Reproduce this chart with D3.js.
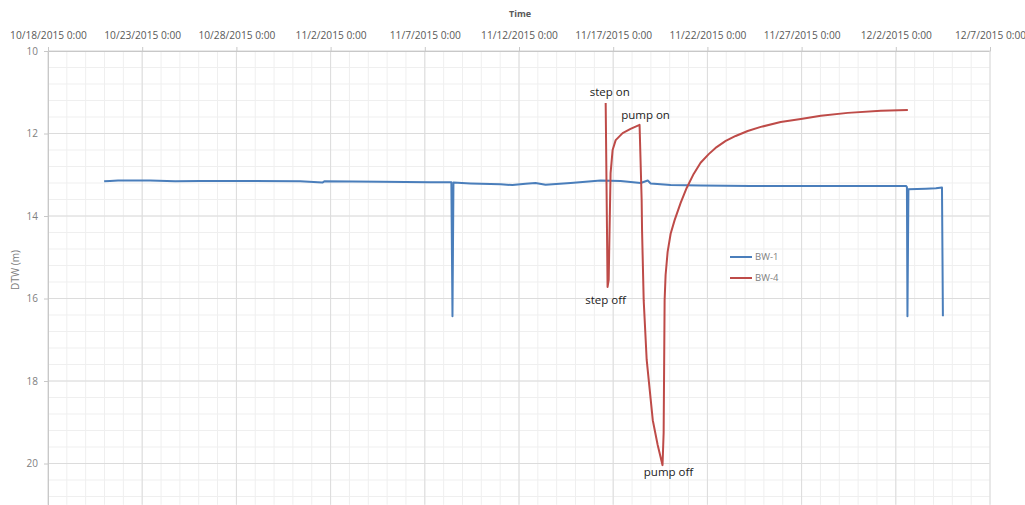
<!DOCTYPE html>
<html>
<head>
<meta charset="utf-8">
<script src="https://cdn.jsdelivr.net/npm/d3@7"></script>
<style>
  html, body { margin: 0; padding: 0; background: #fff; }
  svg { display: block; font-family: "Open Sans", "DejaVu Sans", sans-serif; }
</style>
</head>
<body>
<div id="chart"></div>
<script>
'use strict';

// ─── Data ─────────────────────────────────────────────────────────────────────
const xTickLabels = ['10/18/2015 0:00', '10/23/2015 0:00', '10/28/2015 0:00', '11/2/2015 0:00',
  '11/7/2015 0:00', '11/12/2015 0:00', '11/17/2015 0:00', '11/22/2015 0:00',
  '11/27/2015 0:00', '12/2/2015 0:00', '12/7/2015 0:00'];
const yTicks = [10, 12, 14, 16, 18, 20];

const bw1Times = ['10/20/2015 23:30', '10/21/2015 7:00', '10/21/2015 17:15', '10/23/2015 10:00',
  '10/24/2015 18:00', '10/26/2015 2:00', '10/28/2015 5:00', '10/31/2015 9:20', '11/1/2015 13:30',
  '11/1/2015 16:00', '11/4/2015 15:20', '11/7/2015 7:10', '11/8/2015 9:50', '11/8/2015 11:15',
  '11/8/2015 12:30', '11/9/2015 10:00', '11/11/2015 0:30', '11/11/2015 15:40', '11/12/2015 8:25',
  '11/12/2015 21:00', '11/13/2015 9:50', '11/14/2015 17:45', '11/16/2015 8:00', '11/17/2015 9:20',
  '11/18/2015 11:00', '11/18/2015 20:00', '11/18/2015 23:45', '11/20/2015 1:10', '11/21/2015 15:20',
  '11/24/2015 7:10', '11/26/2015 23:00', '11/29/2015 14:40', '12/2/2015 13:00', '12/2/2015 14:10',
  '12/2/2015 14:50', '12/2/2015 16:05', '12/3/2015 14:25', '12/4/2015 3:10', '12/4/2015 10:50',
  '12/4/2015 12:00'];
const bw1Values = [13.16, 13.15, 13.14, 13.14,
  13.16, 13.15, 13.15, 13.16, 13.19,
  13.16, 13.17, 13.18, 13.18, 16.43,
  13.19, 13.21, 13.23, 13.25, 13.22,
  13.20, 13.24, 13.20, 13.14, 13.15,
  13.20, 13.14, 13.21, 13.25, 13.26,
  13.27, 13.27, 13.27, 13.27, 13.30,
  16.43, 13.35, 13.34, 13.33, 13.31,
  16.43];

const bw4Times = ['11/16/2015 14:25', '11/16/2015 16:50', '11/16/2015 18:15', '11/16/2015 20:40',
  '11/16/2015 23:15', '11/17/2015 3:10', '11/17/2015 12:00', '11/17/2015 22:05', '11/18/2015 9:35',
  '11/18/2015 12:15', '11/18/2015 12:45', '11/18/2015 14:50', '11/18/2015 18:40', '11/19/2015 2:25',
  '11/19/2015 8:40', '11/19/2015 14:50', '11/19/2015 16:15', '11/19/2015 17:30', '11/19/2015 18:45',
  '11/19/2015 21:20', '11/20/2015 1:10', '11/20/2015 6:15', '11/20/2015 13:55', '11/20/2015 21:35',
  '11/21/2015 6:30', '11/21/2015 15:20', '11/22/2015 1:40', '11/22/2015 11:45', '11/22/2015 23:20',
  '11/23/2015 12:00', '11/24/2015 3:20', '11/24/2015 20:00', '11/25/2015 21:20', '11/26/2015 23:00',
  '11/28/2015 0:30', '11/29/2015 10:50', '12/1/2015 5:00', '12/2/2015 15:20'];
const bw4Values = [11.26, 15.72, 15.55, 12.96,
  12.40, 12.16, 11.99, 11.89, 11.79,
  13.61, 14.34, 16.04, 17.49, 18.95,
  19.55, 20.04, 19.26, 16.04, 15.43,
  14.87, 14.43, 14.10, 13.68, 13.32,
  12.98, 12.71, 12.50, 12.33, 12.18,
  12.06, 11.94, 11.84, 11.72, 11.65,
  11.57, 11.50, 11.45, 11.43];

const annotLabels = ['step on', 'pump on', 'step off', 'pump off'];
const annotTimes  = ['11/16/2015 14:25', '11/18/2015 9:35', '11/16/2015 16:50', '11/19/2015 14:50'];
const annotValues = [11.26, 11.79, 15.72, 20.04];

const seriesNames  = ['BW-1', 'BW-4'];
const seriesColors = ['#4a7ebb', '#be4b48'];

// ─── Layout ───────────────────────────────────────────────────────────────────
const W = 1025, H = 505;
const M = { left: 48, right: 35, top: 51 };
const plotW = W - M.left - M.right;
const Y_MAX = 21;

const parse = d3.timeParse('%m/%d/%Y %H:%M');
const xScale = d3.scaleTime()
  .domain([parse('10/18/2015 0:00'), parse('12/7/2015 0:00')])
  .range([M.left, M.left + plotW]);
const yScale = d3.scaleLinear()
  .domain([10, Y_MAX])
  .range([M.top, M.top + 41.25 * (Y_MAX - 10)]);

const svg = d3.select('#chart').append('svg')
  .attr('width', W).attr('height', H);

// ─── Gridlines ────────────────────────────────────────────────────────────────
const grid = svg.append('g');
const x0 = xScale.range()[0], x1 = xScale.range()[1];
const y0 = yScale.range()[0], y1 = yScale.range()[1];

// minor: 1 day / 0.4 m
grid.selectAll('.vminor').data(d3.timeDay.range(xScale.domain()[0], xScale.domain()[1]))
  .join('line')
  .attr('x1', d => xScale(d)).attr('x2', d => xScale(d))
  .attr('y1', y0).attr('y2', y1)
  .attr('stroke', '#efefef').attr('stroke-width', 1);
grid.selectAll('.hminor').data(d3.range(10, Y_MAX + 0.001, 0.4))
  .join('line')
  .attr('x1', x0).attr('x2', x1)
  .attr('y1', d => yScale(d)).attr('y2', d => yScale(d))
  .attr('stroke', '#efefef').attr('stroke-width', 1);

// major: 5 days / 2 m
const majorDates = xTickLabels.map(s => parse(s));
grid.selectAll('.vmajor').data(majorDates)
  .join('line')
  .attr('x1', d => xScale(d)).attr('x2', d => xScale(d))
  .attr('y1', y0).attr('y2', y1)
  .attr('stroke', '#dcdcdc').attr('stroke-width', 1);
grid.selectAll('.hmajor').data(yTicks)
  .join('line')
  .attr('x1', x0).attr('x2', x1)
  .attr('y1', d => yScale(d)).attr('y2', d => yScale(d))
  .attr('stroke', '#dcdcdc').attr('stroke-width', 1);

// ─── Axes ─────────────────────────────────────────────────────────────────────
const xAxis = svg.append('g')
  .attr('transform', `translate(0,${y0})`)
  .call(d3.axisTop(xScale).tickValues(majorDates).tickSize(4).tickPadding(8)
    .tickFormat((d, i) => xTickLabels[i]));
xAxis.select('.domain').attr('stroke', '#c8c8c8');
xAxis.selectAll('.tick line').attr('stroke', '#c8c8c8');
xAxis.selectAll('.tick text')
  .attr('font-family', '"Open Sans", sans-serif')
  .attr('font-size', 10.2).attr('fill', '#595959');

const yAxis = svg.append('g')
  .attr('transform', `translate(${x0},0)`)
  .call(d3.axisLeft(yScale).tickValues(yTicks).tickSize(4).tickPadding(6).tickSizeOuter(0));
yAxis.select('.domain').attr('stroke', '#c8c8c8');
yAxis.selectAll('.tick line').attr('stroke', '#c8c8c8');
yAxis.selectAll('.tick text')
  .attr('font-family', '"Open Sans", sans-serif')
  .attr('font-size', 10).attr('fill', '#808080');

// right border of plot
svg.append('line')
  .attr('x1', x1).attr('x2', x1).attr('y1', y0).attr('y2', y1)
  .attr('stroke', '#e4e4e4');

// axis titles
svg.append('text')
  .attr('x', 520).attr('y', 17)
  .attr('text-anchor', 'middle')
  .attr('font-size', 9).attr('font-weight', 'bold').attr('fill', '#595959')
  .text('Time');
svg.append('text')
  .attr('transform', 'translate(19,270) rotate(-90)')
  .attr('text-anchor', 'middle')
  .attr('font-size', 10).attr('fill', '#808080')
  .text('DTW (m)');

// ─── Series ───────────────────────────────────────────────────────────────────
const line = d3.line().x(d => xScale(d[0])).y(d => yScale(d[1]));
const series = [
  bw1Times.map((t, i) => [parse(t), bw1Values[i]]),
  bw4Times.map((t, i) => [parse(t), bw4Values[i]]),
];
series.forEach((pts, i) => {
  svg.append('path')
    .datum(pts)
    .attr('d', line)
    .attr('fill', 'none')
    .attr('stroke', seriesColors[i])
    .attr('stroke-width', 2)
    .attr('stroke-linejoin', 'round');
});

// ─── Legend ───────────────────────────────────────────────────────────────────
seriesNames.forEach((name, i) => {
  const ly = 257 + i * 21;
  svg.append('line')
    .attr('x1', 730).attr('x2', 752).attr('y1', ly).attr('y2', ly)
    .attr('stroke', seriesColors[i]).attr('stroke-width', 2);
  svg.append('text')
    .attr('x', 755).attr('y', ly).attr('dy', '0.35em')
    .attr('font-size', 9.5).attr('fill', '#808080')
    .text(name);
});

// ─── Annotations ──────────────────────────────────────────────────────────────
const annotOffsets = [[4, -11], [6, -10], [-2, 13], [6, 7]];
annotLabels.forEach((label, i) => {
  svg.append('text')
    .attr('x', xScale(parse(annotTimes[i])) + annotOffsets[i][0])
    .attr('y', yScale(annotValues[i]) + annotOffsets[i][1])
    .attr('dy', '0.35em')
    .attr('text-anchor', 'middle')
    .attr('font-size', 11.5).attr('fill', '#222')
    .text(label);
});
</script>
</body>
</html>
